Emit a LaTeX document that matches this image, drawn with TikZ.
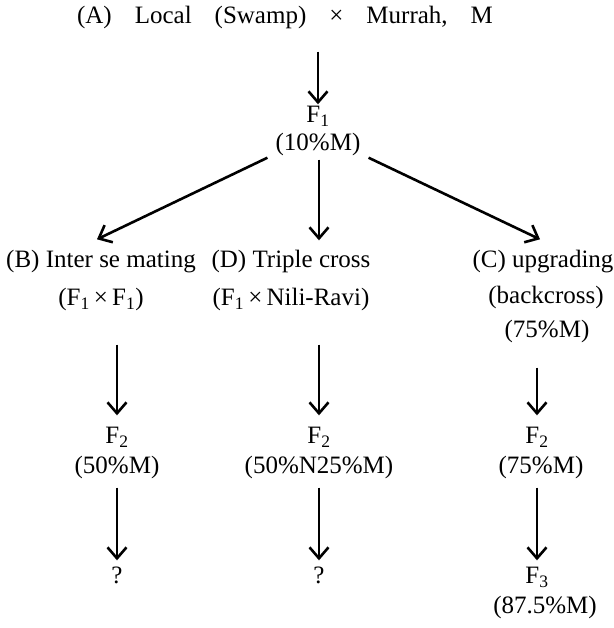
\documentclass[tikz,border=0pt]{standalone}
\usepackage{fontspec}
\setmainfont{Liberation Serif}
\usetikzlibrary{arrows.meta}
\begin{document}
\begin{tikzpicture}[x=1pt,y=-1pt,
  lbl/.style={inner sep=0pt, font=\fontsize{25}{30}\selectfont, text height=17pt, text depth=6pt},
  arr/.style={line width=2.6pt, -{Straight Barb[length=11pt,width=19pt]}},
]
\useasboundingbox (0,0) rectangle (613,628);
\node[lbl] (title) at (285,18) {(A)\hspace{23pt}Local\hspace{23pt}(Swamp)\hspace{23pt}×\hspace{23pt}Murrah,\hspace{23pt}M};
\node[lbl] (f1) at (318,117) {F\textsubscript{1}};
\node[lbl] (p1) at (318,145) {(10\%M)};
\node[lbl] (b1) at (101,262) {(B) Inter se mating};
\node[lbl] (b2) at (101,300) {(F\textsubscript{1}\,×\,F\textsubscript{1})};
\node[lbl] (d1) at (291,262) {(D) Triple cross};
\node[lbl] (d2) at (291,300) {(F\textsubscript{1}\,×\,Nili-Ravi)};
\node[lbl] (c1) at (543,262) {(C) upgrading};
\node[lbl] (c2) at (546,298) {(backcross)};
\node[lbl] (c3) at (547,332) {(75\%M)};
\node[lbl] (bf) at (117,438) {F\textsubscript{2}};
\node[lbl] (bp) at (117,468) {(50\%M)};
\node[lbl] (df) at (319,438) {F\textsubscript{2}};
\node[lbl] (dp) at (319,468) {(50\%N25\%M)};
\node[lbl] (cf) at (537,438) {F\textsubscript{2}};
\node[lbl] (cp) at (541,468) {(75\%M)};
\node[lbl] (bq) at (117,578) {?};
\node[lbl] (dq) at (319,578) {?};
\node[lbl] (cf3) at (537,578) {F\textsubscript{3}};
\node[lbl] (cp3) at (545,608) {(87.5\%M)};
% arrows
\draw[arr, shorten <=22pt, shorten >=1pt] (title.south -| f1) -- (f1);
\draw[arr] ([shift={(-8,1)}]p1.south west) -- ([shift={(-4,-11)}]b1.north);
\draw[arr, shorten <=3pt, shorten >=10pt] (p1.south -| df) -- (d1.north -| df);
\draw[arr] ([shift={(8,1)}]p1.south east) -- ([shift={(-3,-11)}]c1.north);
\draw[arr, shorten <=33pt, shorten >=11pt] (b2.south -| bf) -- (bf);
\draw[arr, shorten <=33pt, shorten >=11pt] (d2.south -| df) -- (df);
\draw[arr, shorten <=24pt, shorten >=11pt] (c3.south -| cf) -- (cf);
\draw[arr, shorten <=8pt, shorten >=6pt] (bp.south -| bq) -- (bq);
\draw[arr, shorten <=8pt, shorten >=6pt] (dp.south -| dq) -- (dq);
\draw[arr, shorten <=8pt, shorten >=6pt] (cp.south -| cf3) -- (cf3);
\end{tikzpicture}
\end{document}
